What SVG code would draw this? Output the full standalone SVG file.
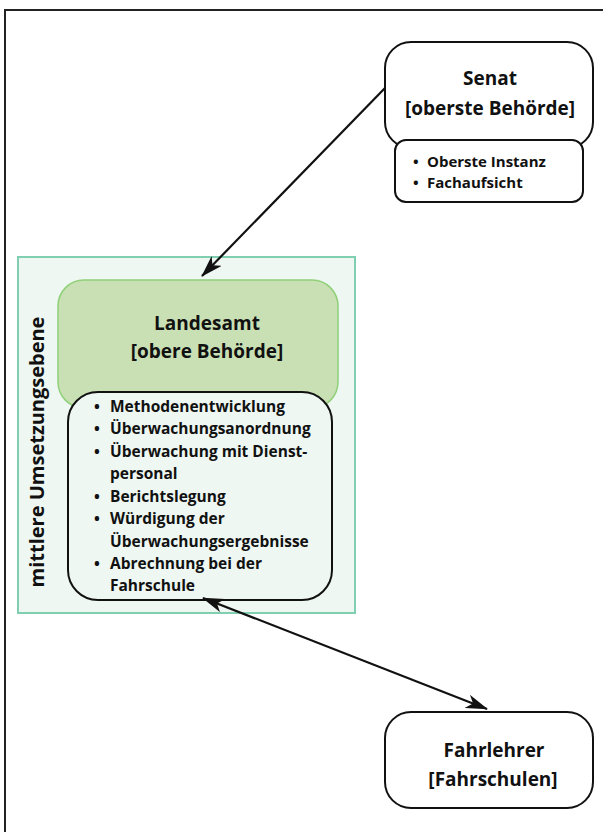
<svg xmlns="http://www.w3.org/2000/svg" width="603" height="832" viewBox="0 0 603 832">
<defs>
<style>
.t{font-family:"Open Sans",Lato,"Liberation Sans",sans-serif;font-weight:bold;fill:#111;}
.h{font-size:19px;text-anchor:middle;}
.b{font-size:15.5px;}
.s{font-size:15px;}
.box{fill:#fff;stroke:#111;stroke-width:2;}
.con{stroke:#111;stroke-width:2.2;fill:none;}
</style>
<marker id="ah" viewBox="0 0 22 14" refX="21" refY="7" markerWidth="22" markerHeight="14" markerUnits="userSpaceOnUse" orient="auto-start-reverse">
<path d="M0,0 L22,7 L0,14 L6,7 Z" fill="#111"/>
</marker>
</defs>
<rect width="603" height="832" fill="#fff"/>
<path d="M5,832 V10 H603" fill="none" stroke="#222" stroke-width="2"/>

<g id="senat">
<rect class="box" x="385" y="42" width="208" height="106" rx="26"/>
<text class="t h" x="490" y="85">Senat</text>
<text class="t h" x="490" y="115">[oberste Behörde]</text>
</g>
<g id="senat-aufgaben">
<rect class="box" x="395" y="140" width="188" height="62" rx="11"/>
<text class="t s" x="413" y="167">•</text>
<text class="t s" x="427" y="167">Oberste Instanz</text>
<text class="t s" x="413" y="188">•</text>
<text class="t s" x="427" y="188">Fachaufsicht</text>
</g>

<g id="mittlere-ebene">
<rect x="18" y="257" width="337" height="356" fill="#eef7f2" stroke="#7fcfb0" stroke-width="2"/>
<text class="t" font-size="20" text-anchor="middle" transform="translate(44,452) rotate(-90)">mittlere Umsetzungsebene</text>
</g>

<g id="landesamt">
<rect x="58" y="280" width="280" height="128" rx="26" fill="#c9e0b4" stroke="#8fd078" stroke-width="1.5"/>
<text class="t h" x="207" y="330">Landesamt</text>
<text class="t h" x="207" y="358">[obere Behörde]</text>
</g>

<g id="landesamt-aufgaben">
<rect x="68" y="392" width="264" height="208" rx="30" fill="#eef7f2" stroke="#111" stroke-width="2"/>
<g class="t b">
<text x="94" y="412">•</text><text x="110" y="412">Methodenentwicklung</text>
<text x="94" y="434">•</text><text x="110" y="434">Überwachungsanordnung</text>
<text x="94" y="457">•</text><text x="110" y="457">Überwachung mit Dienst-</text>
<text x="110" y="479">personal</text>
<text x="94" y="502">•</text><text x="110" y="502">Berichtslegung</text>
<text x="94" y="524">•</text><text x="110" y="524">Würdigung der</text>
<text x="110" y="547">Überwachungsergebnisse</text>
<text x="94" y="569">•</text><text x="110" y="569">Abrechnung bei der</text>
<text x="110" y="591">Fahrschule</text>
</g>
</g>

<g id="fahrlehrer">
<rect class="box" x="385" y="712" width="208" height="96" rx="26"/>
<text class="t h" x="494" y="757">Fahrlehrer</text>
<text class="t h" x="493" y="786">[Fahrschulen]</text>
</g>

<g id="connectors">
<line class="con" x1="385" y1="88" x2="202" y2="276" marker-end="url(#ah)"/>
<line class="con" x1="203" y1="598" x2="487" y2="709" marker-start="url(#ah)" marker-end="url(#ah)"/>
</g>
</svg>
